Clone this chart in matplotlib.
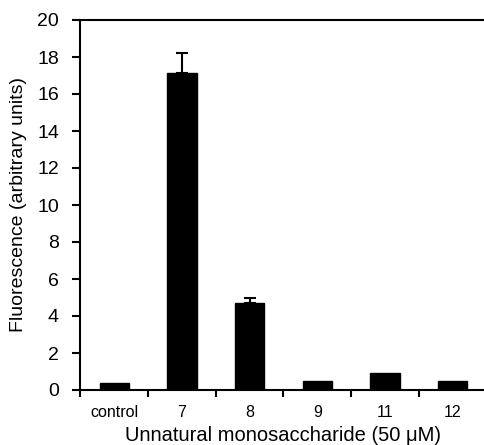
import matplotlib
matplotlib.use("Agg")
import matplotlib.pyplot as plt
import numpy as np

categories = ["control", "7", "8", "9", "11", "12"]
values = [0.36, 17.15, 4.69, 0.49, 0.90, 0.49]
errors = [0, 1.08, 0.30, 0, 0, 0]

plt.rcParams['font.family'] = ['Liberation Sans', 'DejaVu Sans']

fig = plt.figure(figsize=(4.85, 4.45), dpi=100)
ax = fig.add_axes([80.5/485, 55/445, 406/485, 370/445])

x = np.arange(len(categories))
ax.bar(x, values, width=0.43, color='black', edgecolor='black')
for xi, v, e in zip(x, values, errors):
    if e > 0:
        ax.errorbar(xi, v, yerr=[[0], [e]], fmt='none', ecolor='black',
                    elinewidth=1.5, capsize=4.5, capthick=1.5)

ax.set_xlim(-0.5, 5.47)
ax.set_ylim(0, 20)
ax.set_yticks(np.arange(0, 21, 2))
ax.set_xticks(x)
ax.set_xticklabels(categories, fontsize=11.5)
ax.set_xticks(np.arange(-0.5, 5.6, 1), minor=True)
ax.tick_params(axis='x', which='major', length=0, pad=11)
ax.tick_params(axis='x', which='minor', length=5, width=1.5, direction='out')
ax.tick_params(axis='y', which='major', length=6, width=1.5, direction='out', labelsize=14, pad=9.5)

for s in ['left', 'bottom', 'top']:
    ax.spines[s].set_linewidth(1.5)
ax.spines['right'].set_visible(False)

ax.set_ylabel("Fluorescence (arbitrary units)", fontsize=14, labelpad=7)
ax.set_xlabel("Unnatural monosaccharide (50 μM)", fontsize=14.5, labelpad=4)

fig.savefig("out.png", dpi=100)
